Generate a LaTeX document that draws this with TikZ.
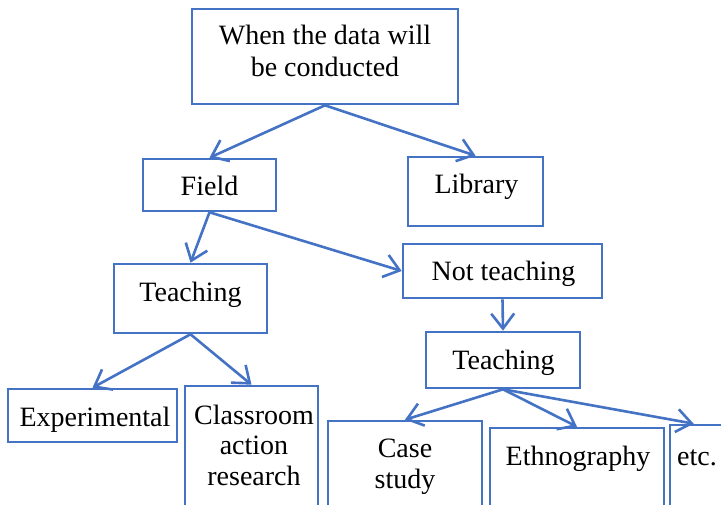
\documentclass[tikz,border=0pt]{standalone}
\usepackage{fontspec}
\setmainfont{Liberation Serif}
\usetikzlibrary{arrows.meta}
\definecolor{boxblue}{HTML}{4472C4}
\begin{document}
\begin{tikzpicture}[x=1pt,y=-1pt,
  box/.style={draw=boxblue, line width=2.6pt, rectangle, inner sep=0pt},
  txt/.style={inner sep=0pt, align=center, anchor=base,
    font=\fontsize{28}{31}\selectfont, text=black},
  conn/.style={draw=boxblue, line width=2.6pt, -{Straight Barb[length=15pt,width=23pt,line width=2.6pt]}}]
\useasboundingbox (0,0) rectangle (721,505);
\clip (0,0) rectangle (721,505);
% boxes
\node[box, minimum width=266pt, minimum height=95pt] (top) at (325,56.5) {};
\node[box, minimum width=133pt, minimum height=52pt] (field) at (209.5,185) {};
\node[box, minimum width=135pt, minimum height=69pt] (library) at (475.5,191.5) {};
\node[box, minimum width=153pt, minimum height=69pt] (teachL) at (190.5,298.5) {};
\node[box, minimum width=199pt, minimum height=54pt] (notteach) at (502.5,271) {};
\node[box, minimum width=154pt, minimum height=56pt] (teachR) at (503,360) {};
\node[box, minimum width=169pt, minimum height=53pt] (exper) at (92.5,415.5) {};
\node[box, minimum width=133pt, minimum height=134pt] (classroom) at (251.5,453) {};
\node[box, minimum width=154pt, minimum height=100pt] (case) at (405,471) {};
\node[box, minimum width=174pt, minimum height=100pt] (ethno) at (577,478) {};
\node[box, minimum width=90pt, minimum height=100pt] (etc) at (715,475) {};
% texts (base = baseline of the last line)
\node[txt, font=\fontsize{28}{32}\selectfont] (topt) at (325,77) {When the data will\\be conducted};
\node[txt] (fieldt) at (209.5,196) {Field};
\node[txt] (libraryt) at (476.5,194) {Library};
\node[txt] (teachLt) at (190.5,302) {Teaching};
\node[txt] (notteacht) at (503.5,281) {Not teaching};
\node[txt] (teachRt) at (503.5,370) {Teaching};
\node[txt] (expert) at (95,426) {Experimental};
\node[txt, font=\fontsize{28}{30.5}\selectfont] (classroomt) at (254,485) {Classroom\\action\\research};
\node[txt] (caset) at (405,488) {Case\\study};
\node[txt] (ethnot) at (578,465) {Ethnography};
\node[txt, anchor=base west] (etct) at (677,465) {etc.};
% connectors
\draw[conn] (top.south) -- (field.north);
\draw[conn] (top.south) -- (library.north);
\draw[conn] (field.south) -- (teachL.north);
\draw[conn] (field.south) -- (notteach.west);
\draw[conn] (notteach.south) -- (teachR.north);
\draw[conn] (teachL.south) -- (exper.north);
\draw[conn] (teachL.south) -- (classroom.north);
\draw[conn] (teachR.south) -- (case.north);
\draw[conn] (teachR.south) -- (ethno.north);
\draw[conn] (teachR.south) -- ([xshift=25pt]etc.north west);
\end{tikzpicture}
\end{document}
